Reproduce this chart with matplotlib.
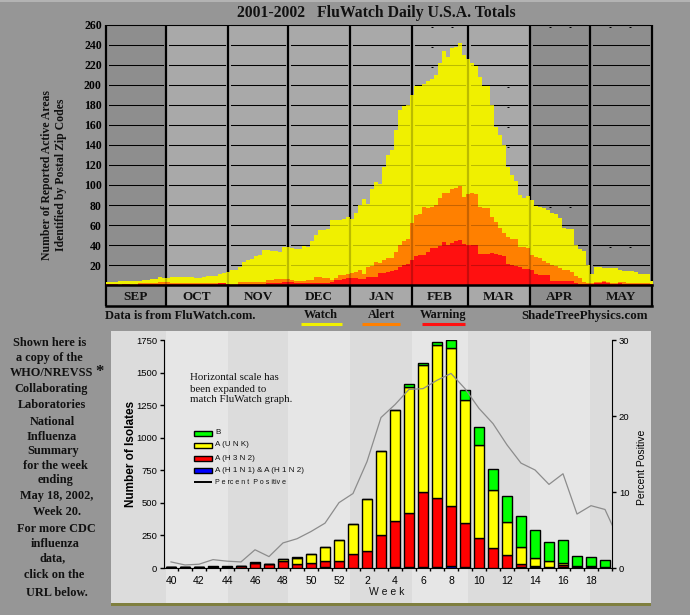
import numpy as np
import matplotlib
matplotlib.use('Agg')
import matplotlib.pyplot as plt
from matplotlib.patches import Rectangle

W, H = 690, 615
BG = '#969696'
SERIF = 'Liberation Serif'
SANS = 'Liberation Sans'

# top chart, values read every 2 days starting Sep 1
watch = [3,3,3,4,4,4,4,4,4,5,5,6,6,8,7,
         7,8,8,8,8,8,8,7,7,8,9,9,9,11,12,13,
         15,15,18,23,25,26,29,30,35,35,34,34,33,38,38,
         37,36,36,39,38,44,50,55,55,56,65,65,65,66,68,
         66,72,80,86,81,96,103,101,118,130,135,155,175,179,180,190,199,199,201,204,206,210,222,234,228,237,238,242,
         230,226,222,219,208,199,199,180,158,150,140,118,110,104,90,87,89,
         85,79,78,77,75,72,71,67,57,56,56,40,36,34,20,11,
         18,18,17,17,17,17,15,14,14,14,13,11,11,11,4]
alert = [1,1,1,1,1,1,1,1,2,2,2,2,2,3,3,
         3,2,2,2,2,2,2,2,2,2,2,2,2,2,2,1,
         1,1,3,3,3,3,3,3,3,5,5,6,6,6,6,
         5,4,4,4,5,5,8,8,7,7,5,7,10,10,11,
         12,13,15,11,18,19,23,22,25,27,27,33,40,44,46,62,70,71,78,77,78,80,87,92,92,96,97,99,
         88,91,92,91,78,77,77,68,63,57,52,48,46,46,38,38,37,
         30,28,27,24,22,20,19,17,15,15,13,9,7,3,2,2,
         3,3,4,3,2,2,3,3,2,2,2,2,2,2,1]
warning = [1,1,1,0,1,1,0,0,1,1,1,1,1,1,1,
           1,1,1,1,1,1,1,1,1,1,1,1,1,2,2,1,
           0,0,1,1,1,1,1,1,1,2,2,2,2,3,3,
           3,2,2,2,2,2,2,2,2,2,3,5,5,6,7,
           7,7,6,6,8,8,8,12,12,13,14,15,18,20,21,25,29,30,30,33,37,37,39,43,40,42,44,45,
           41,40,40,40,31,31,31,32,31,30,29,21,20,19,18,16,16,
           15,11,10,10,10,4,4,4,4,4,4,2,1,1,1,1,
           2,2,3,2,1,1,2,1,1,1,1,1,1,1,1]
months = ['SEP','OCT','NOV','DEC','JAN','FEB','MAR','APR','MAY']
month_days = [30,31,30,31,31,28,31,30,31]
dark_months = ['SEP','APR','MAY']
speck_day = [163,173,163,163,201,201,201,201,222,232,222,232,252,262,252,262]
speck_val = [258,258,238,218,198,178,158,138,258,258,78,78,258,258,38,38]

# bottom chart, one value per week
weeks = [40,41,42,43,44,45,46,47,48,49,50,51,52,1,2,3,4,5,6,7,8,9,10,11,12,13,14,15,16,17,18,19]
h1n1 = [5,5,5,8,8,2,3,2,2,3,3,8,3,3,3,3,8,5,5,5,12,5,3,3,3,8,5,5,5,8,5,5]
h3n2 = [0,0,0,0,0,16,35,28,51,27,35,47,50,104,127,249,352,416,577,531,462,339,227,150,96,22,13,5,18,4,10,3]
unk = [0,0,0,0,0,0,0,0,16,48,69,105,161,229,398,643,849,969,979,1176,1217,949,716,449,253,131,59,44,15,0,0,0]
type_b = [3,3,3,4,7,0,7,0,0,7,0,0,0,0,0,0,0,26,16,25,61,77,133,156,199,237,214,145,176,80,69,53]
pct_pos = [0.8,0.4,0.5,1.1,0.9,0.8,2.4,1.5,3.3,3.85,4.8,5.9,8.6,9.8,14.0,19.8,21.5,23.5,23.6,24.7,25.6,23.6,21.0,19.0,16.2,13.8,12.9,11.0,12.4,7.1,8.2,7.7]
pct_last = 3.7
week_labels = ['40','42','44','46','48','50','52','2','4','6','8','10','12','14','16','18']

sidebar = [('Shown here is',50,343),('a copy of the',49,358),('WHO/NREVSS',52,373),
           ('Collaborating',51,389),('Laboratories',52,405),('National',52,422),
           ('Influenza',52,437),('Summary',53,451),('for the week',55,466),('ending',55,480),
           ('May 18, 2002,',57,496),('Week 20.',57,512),('For more CDC',56,529),
           ('influenza',55,544),('data,',53,558),('click on the',54,575),('URL below.',57,593)]

fig = plt.figure(figsize=(W/100, H/100), dpi=100, facecolor=BG)


def box(x0, y0, x1, y1):
    return [x0/W, 1-y1/H, (x1-x0)/W, (y1-y0)/H]


# pixel layer for panel and loose text
bg = fig.add_axes([0, 0, 1, 1], zorder=0)
bg.set_xlim(0, W)
bg.set_ylim(H, 0)
bg.axis('off')

bounds = np.concatenate([[0], np.cumsum(month_days)])
bg.add_patch(Rectangle((111, 603), 540, 3, color='#7f7f3f', lw=0))
bg.add_patch(Rectangle((111, 331), 540, 272, color='#dcdcdc', lw=0))
for k in [1, 3, 5, 7]:
    bg.add_patch(Rectangle((106+2*bounds[k], 331), 2*month_days[k], 272, color='#e6e6e6', lw=0))
bg.plot([0, W], [1, 1], color='#b4b4b4', lw=1.4)

# ---- top chart
ax = fig.add_axes(box(106, 25, 652, 285), zorder=2)
ax.patch.set_alpha(0)
for s in ax.spines.values():
    s.set_visible(False)
ax.set_xlim(0, 273)
ax.set_ylim(0, 260)

for k, m in enumerate(months):
    col = '#8e8e8e' if m in dark_months else '#a9a9a9'
    ax.add_patch(Rectangle((bounds[k], -21), month_days[k], 281, color=col, lw=0, zorder=0, clip_on=False))
    ax.text(bounds[k]+month_days[k]/2, -11.5, m, ha='center', va='center', family=SERIF,
            weight='bold', size=9.5, color='#111111')
    for v in range(20, 261, 20):
        ax.plot([bounds[k]+1.5, bounds[k+1]-1.5], [v, v], color='black', lw=0.75, zorder=1, clip_on=False)

ax.vlines(bounds, -21, 260, color='black', lw=1.6, zorder=1, clip_on=False)
ax.plot(speck_day, speck_val, ls='none', marker='_', ms=2, mew=0.7, color='black', zorder=1)

days = np.append(np.arange(len(watch))*2, 274)
def stepped(vals):
    return np.append(vals, vals[-1])

yellow = ax.fill_between(days, 0, stepped(watch), step='post', color='#f0f000', lw=0, zorder=2)
ax.fill_between(days, 0, stepped(alert), step='post', color='#ff8000', lw=0, zorder=3)
ax.fill_between(days, 0, stepped(warning), step='post', color='#ff1010', lw=0, zorder=4)

# grid shows through the filled area as a darker shade
shade_path = yellow.get_paths()[0]
for k in range(9):
    for v in range(20, 261, 20):
        ln, = ax.plot([bounds[k]+1.5, bounds[k+1]-1.5], [v, v], color='black', alpha=0.22, lw=0.75, zorder=5)
        ln.set_clip_path(shade_path, ax.transData)
vl = ax.vlines(bounds[1:-1], 0, 260, color='black', alpha=0.22, lw=1.6, zorder=5)
vl.set_clip_path(shade_path, ax.transData)

ax.plot([0, 273], [0, 0], color='black', lw=1.8, zorder=6, clip_on=False)
ax.plot([0, 273], [-21, -21], color='black', lw=1.8, zorder=6, clip_on=False)
ax.plot([0, 273], [260, 260], color='black', lw=0.75, zorder=1, clip_on=False)
ax.set_xticks([])
ax.set_yticks(range(20, 261, 20))
ax.tick_params(axis='y', length=0, pad=3)
for t in ax.get_yticklabels():
    t.set_family(SERIF)
    t.set_weight('bold')
    t.set_size(8.5)

# ---- bottom chart
ax2 = fig.add_axes(box(164, 340, 612, 568), zorder=2)
ax2.patch.set_alpha(0)
ax2.set_xlim(-0.5, 31.5)
ax2.set_ylim(0, 1750)
ax2.spines['top'].set_visible(False)
ax2.spines['right'].set_visible(False)

idx = np.arange(len(weeks))
b0 = np.array(h1n1)
b1 = b0+np.array(h3n2)
b2 = b1+np.array(unk)
kw = dict(width=0.78, edgecolor='black', linewidth=1.0, zorder=3)
ax2.bar(idx, h1n1, color='#0000ff', **kw)
ax2.bar(idx, h3n2, bottom=b0, color='#ff0000', **kw)
ax2.bar(idx, unk, bottom=b1, color='#ffff00', **kw)
ax2.bar(idx, type_b, bottom=b2, color='#00ff00', **kw)

ax2.set_yticks(range(0, 1751, 250))
ax2.set_xticks(idx+0.5)
ax2.set_xticklabels([])
ax2.set_xticks(idx[::2], labels=week_labels, minor=True)
ax2.tick_params(axis='x', which='major', length=2.5, width=1)
ax2.tick_params(axis='x', which='minor', length=0, pad=6, labelsize=7.5)
ax2.tick_params(axis='y', length=3, width=1, pad=2, labelsize=6.8)
for t in ax2.get_xticklabels(minor=True)+ax2.get_yticklabels():
    t.set_family(SANS)
ax2.set_ylabel('Number of Isolates', family=SANS, weight='bold', size=8.5, labelpad=3)
ax2.yaxis.set_label_coords(-0.06, 0.5)

ax3 = ax2.twinx()
ax3.set_ylim(0, 30)
ax3.patch.set_alpha(0)
ax3.spines['top'].set_visible(False)
ax3.spines['left'].set_visible(False)
ax3.spines['bottom'].set_visible(False)
ax3.plot(np.append(idx, idx[-1]+1), pct_pos+[pct_last], color='#8c8c8c', lw=0.9, zorder=6)
ax3.set_yticks([0, 10, 20, 30])
ax3.tick_params(axis='y', length=3, width=1, pad=2, labelsize=6.8)
for t in ax3.get_yticklabels():
    t.set_family(SANS)
ax3.set_ylabel('Percent Positive', family=SANS, size=7.5, rotation=90)
ax3.yaxis.set_label_coords(1.055, 0.44)

# ---- text and legends in pixel space
txt = fig.add_axes([0, 0, 1, 1], zorder=5)
txt.set_xlim(0, W)
txt.set_ylim(H, 0)
txt.axis('off')

txt.text(376, 13, '2001-2002   FluWatch Daily U.S.A. Totals', ha='center', va='center',
         family=SERIF, weight='bold', size=11.3, color='#111111')
txt.text(47, 175, 'Number of Reported Active Areas', rotation=90, ha='center', va='center',
         family=SERIF, weight='bold', size=8.5, color='#111111')
txt.text(61, 175, 'Identified by Postal Zip Codes', rotation=90, ha='center', va='center',
         family=SERIF, weight='bold', size=8.5, color='#111111')
txt.text(105, 316, 'Data is from FluWatch.com.', ha='left', va='center', family=SERIF, weight='bold', size=9, color='#111111')
txt.text(648, 316, 'ShadeTreePhysics.com', ha='right', va='center', family=SERIF, weight='bold', size=9.4, color='#111111')
for name, col, x0, x1, cx in [('Watch', '#f0f000', 301, 342, 321),
                              ('Alert', '#ff8000', 362, 400, 381),
                              ('Warning', '#ff1010', 422, 465, 443)]:
    txt.text(cx, 315, name, ha='center', va='center', family=SERIF, weight='bold', size=8.8, color='#111111')
    txt.plot([x0, x1], [324, 324], color=col, lw=2.2, solid_capstyle='butt')

for s, x, y in sidebar:
    txt.text(x, y, s, ha='center', va='center', family=SERIF, weight='bold', size=8.8, color='#111111')
txt.text(99, 372, '*', ha='center', va='center', family=SERIF, weight='bold', size=12, color='#111111')

for s, y in [('Horizontal scale has', 378), ('been expanded to', 390), ('match FluWatch graph.', 400)]:
    txt.text(190, y, s, ha='left', va='center', family=SERIF, size=7.8, color='#111111')

for name, col, y in [('B', '#00ff00', 433), ('A (U N K)', '#ffff00', 445),
                     ('A (H 3 N 2)', '#ff0000', 458), ('A (H 1 N 1) & A (H 1 N 2)', '#0000ff', 470)]:
    txt.add_patch(Rectangle((194, y-2.5), 18, 5, facecolor=col, edgecolor='black', lw=1))
    txt.text(215, y, name, ha='left', va='center', family=SANS, size=5.8, color='#111111')
txt.plot([194, 212], [482, 482], color='black', lw=1.4, solid_capstyle='butt')
txt.text(215, 482, 'P e rc e n t  P o s itiv e', ha='left', va='center', family=SANS, size=5, color='#111111')
txt.text(387, 592, 'W e e k', ha='center', va='center', family=SANS, size=7.5, color='#111111')

fig.savefig('out.png', dpi=100, facecolor=BG)
